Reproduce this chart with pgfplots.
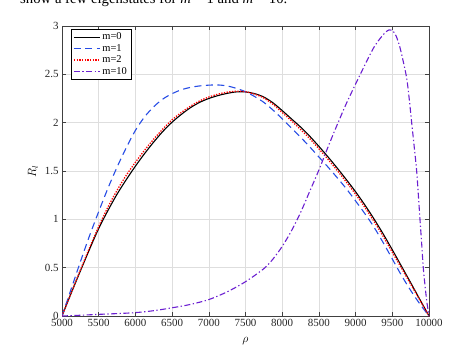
\documentclass[border=0pt]{standalone}
\usepackage{fontspec}
\setmainfont{Liberation Serif}
\usepackage{pgfplots}
\pgfplotsset{compat=1.18}
\definecolor{mblue}{rgb}{0.15,0.3,0.9}
\definecolor{mred}{rgb}{1,0,0}
\definecolor{mpurple}{rgb}{0.42,0.12,0.82}
\begin{document}
\begin{tikzpicture}[x=1bp,y=1bp]
\useasboundingbox (-62,-39) rectangle (412,316);
\node[anchor=base west, font=\fontsize{14.8}{16}\selectfont, inner sep=0pt] at (-42,313) {show a few eigenstates for \textit{m} = 1 and \textit{m} = 10.};
\begin{axis}[
  at={(0,0)}, anchor=south west,
  scale only axis, width=367bp, height=290bp,
  xmin=5000, xmax=10000, ymin=0, ymax=3,
  xtick={5000,5500,...,10000},
  ytick={0,0.5,...,3},
  yticklabels={0,0.5,1,1.5,2,2.5,3},
  scaled x ticks=false,
  /pgf/number format/assume math mode=true,
  /pgf/number format/set thousands separator={},
  ticklabel style={font=\fontsize{11}{12}\selectfont, text=black!85},
  tick align=inside,
  major tick length=4bp,
  tick style={color=black!75, line width=0.5pt},
  axis line style={color=black!75, line width=0.5pt},
  grid=major,
  major grid style={color=black!13, line width=0.5pt},
  xlabel={$\rho$},
  ylabel={$R_l$},
  xlabel style={at={(axis description cs:0.5,-0.085)}, anchor=center, font=\fontsize{12}{13}\selectfont},
  ylabel style={at={(axis description cs:-0.079,0.5)}, anchor=center, font=\fontsize{12}{13}\selectfont},
  legend cell align=left,
  legend style={at={(axis description cs:0.025,0.99)}, anchor=north west, fill=white, font=\fontsize{10.5}{11}\selectfont, inner sep=1.8pt, row sep=-1pt},
  legend image code/.code={\draw[#1] (0bp,0bp) -- (26bp,0bp);},
  clip=true,
]
\addplot[color=black, draw=black, line width=1.1pt, smooth, tension=0.5] coordinates {
(5000,0) (5125,0.235) (5250,0.465) (5375,0.69) (5500,0.905) (5625,1.09) (5750,1.26) (5875,1.41) (6000,1.55) (6125,1.68)
(6250,1.80) (6375,1.91) (6500,2.005) (6625,2.085) (6750,2.155) (6875,2.21) (7000,2.25) (7125,2.28) (7250,2.303) (7375,2.318)
(7500,2.318) (7625,2.30) (7750,2.265) (7875,2.205) (8000,2.125) (8125,2.04) (8250,1.955) (8375,1.86) (8500,1.755) (8625,1.645)
(8750,1.53) (8875,1.41) (9000,1.285) (9125,1.15) (9250,1.005) (9375,0.85) (9500,0.685) (9625,0.515) (9750,0.345) (9875,0.172) (10000,0)};
\addlegendentry{m=0}
\addplot[color=mblue, draw=mblue, line width=1.1pt, dash pattern=on 7bp off 4.5bp, smooth, tension=0.5] coordinates {
(5000,0) (5125,0.28) (5250,0.56) (5375,0.83) (5500,1.08) (5625,1.32) (5750,1.54) (5875,1.74) (6000,1.92) (6125,2.06)
(6250,2.165) (6375,2.245) (6500,2.30) (6625,2.34) (6750,2.365) (6875,2.38) (7000,2.388) (7125,2.39) (7250,2.38) (7375,2.355)
(7500,2.32) (7625,2.27) (7750,2.21) (7875,2.13) (8000,2.04) (8125,1.945) (8250,1.85) (8375,1.75) (8500,1.645) (8625,1.54)
(8750,1.43) (8875,1.315) (9000,1.19) (9125,1.06) (9250,0.92) (9375,0.76) (9500,0.59) (9625,0.42) (9750,0.265) (9875,0.125) (10000,0)};
\addlegendentry{m=1}
\addplot[color=mred, draw=mred, line width=1.3pt, dash pattern=on 1.3bp off 1.4bp, smooth, tension=0.5] coordinates {
(5000,0) (5125,0.24) (5250,0.475) (5375,0.705) (5500,0.925) (5625,1.125) (5750,1.30) (5875,1.455) (6000,1.59) (6125,1.715)
(6250,1.83) (6375,1.935) (6500,2.03) (6625,2.105) (6750,2.17) (6875,2.225) (7000,2.265) (7125,2.295) (7250,2.315) (7375,2.325)
(7500,2.32) (7625,2.295) (7750,2.255) (7875,2.19) (8000,2.105) (8125,2.02) (8250,1.93) (8375,1.835) (8500,1.73) (8625,1.62)
(8750,1.505) (8875,1.385) (9000,1.26) (9125,1.125) (9250,0.98) (9375,0.825) (9500,0.66) (9625,0.495) (9750,0.33) (9875,0.165) (10000,0)};
\addlegendentry{m=2}
\addplot[color=mpurple, draw=mpurple, line width=1.1pt, dash pattern=on 6bp off 2.5bp on 1.3bp off 2.5bp, smooth, tension=0.5] coordinates {
(5000,0) (5250,0.008) (5500,0.017) (5750,0.025) (6000,0.035) (6250,0.055) (6500,0.085) (6750,0.12) (7000,0.17) (7250,0.25)
(7500,0.355) (7750,0.49) (7875,0.59) (8000,0.72) (8125,0.88) (8250,1.07) (8375,1.29) (8500,1.51) (8625,1.75) (8750,1.98)
(8875,2.2) (9000,2.4) (9083,2.53) (9167,2.66) (9250,2.78) (9333,2.87) (9400,2.93) (9455,2.96) (9500,2.955) (9550,2.9)
(9600,2.79) (9650,2.63) (9696,2.46) (9730,2.25) (9764,2.0) (9800,1.74) (9832,1.5) (9855,1.25) (9877,1.0) (9900,0.75)
(9922,0.5) (9945,0.32) (9970,0.15) (10000,0)};
\addlegendentry{m=10}
\node[anchor=south west, inner sep=0pt, font=\fontsize{9}{10}\selectfont, text=black!85] at (rel axis cs:0.005,1.012) {×10\textsuperscript{−4}};
\end{axis}
\end{tikzpicture}
\end{document}
